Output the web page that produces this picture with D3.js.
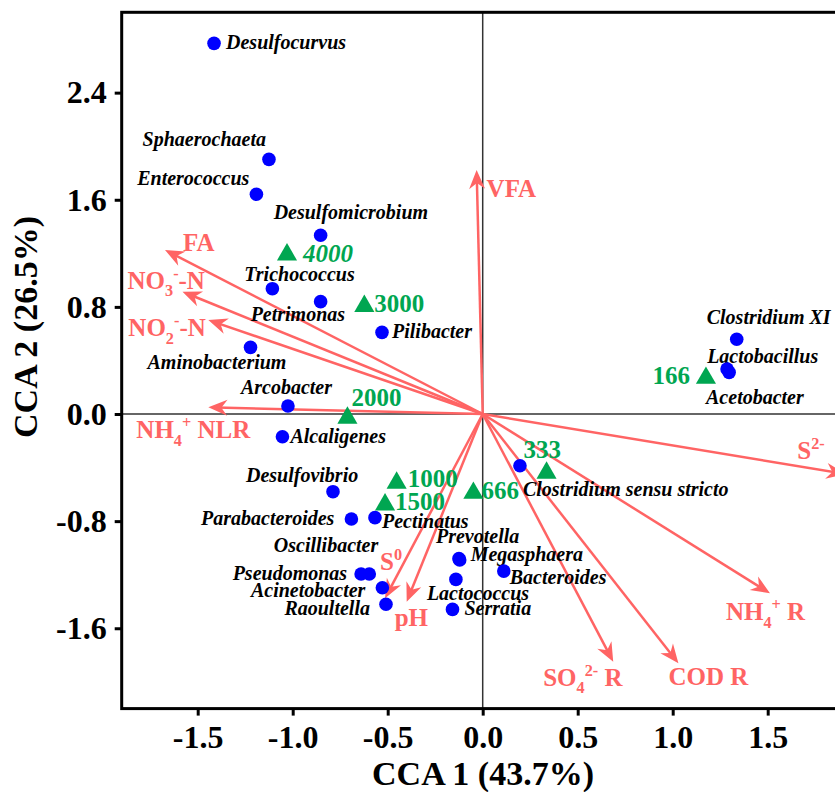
<!DOCTYPE html>
<html>
<head>
<meta charset="utf-8">
<script src="https://cdn.jsdelivr.net/npm/d3@7"></script>
<style>
  body { margin: 0; background: #fff; }
  svg text { font-family: "Liberation Serif", "Times New Roman", serif; font-weight: bold; }
</style>
</head>
<body>
<svg id="plot" width="835" height="792"></svg>
<script>
// species scores
const species = ['Desulfocurvus', 'Sphaerochaeta', 'Enterococcus', 'Desulfomicrobium', 'Trichococcus',
  'Petrimonas', 'Pilibacter', 'Aminobacterium', 'Arcobacter', 'Alcaligenes', 'Desulfovibrio',
  'Parabacteroides', 'Pectinatus', 'Oscillibacter', 'Pseudomonas', 'Acinetobacter', 'Raoultella',
  'Clostridium sensu stricto', 'Prevotella', 'Megasphaera', 'Bacteroides', 'Lactococcus', 'Serratia',
  'Clostridium XI', 'Lactobacillus', 'Acetobacter'];
const speciesCCA1 = [-1.414, -1.125, -1.191, -0.853, -1.107, -0.853, -0.530, -1.222, -1.025, -1.054, -0.788,
  -0.691, -0.567, -0.597, -0.640, -0.528, -0.509, 0.196, -0.125, -0.121, 0.111, -0.141, -0.159,
  1.337, 1.297, 1.286];
const speciesCCA2 = [2.768, 1.902, 1.641, 1.335, 0.936, 0.839, 0.610, 0.498, 0.060, -0.170, -0.580,
  -0.784, -0.774, -1.195, -1.195, -1.297, -1.421, -0.386, -1.080, -1.090, -1.173, -1.235, -1.459,
  0.558, 0.311, 0.336];

// sample scores
const samples = ['4000', '3000', '2000', '1000', '1500', '666', '333', '166'];
const sampleCCA1 = [-1.030, -0.623, -0.712, -0.453, -0.514, -0.049, 0.336, 1.175];
const sampleCCA2 = [1.190, 0.805, -0.029, -0.515, -0.677, -0.590, -0.440, 0.269];

// environmental vectors
const envVars = ['VFA', 'FA', 'NO3-N', 'NO2-N', 'NH4 NLR', 'S0', 'pH', 'S2-', 'NH4 R', 'SO4 R', 'COD R'];
const envCCA1 = [-0.032, -1.672, -1.580, -1.444, -1.444, -0.514, -0.400, 1.908, 1.512, 0.687, 1.030];
const envCCA2 = [1.822, 1.225, 0.913, 0.702, 0.050, -1.376, -1.402, -0.448, -1.339, -1.850, -1.862];
const envText = [
  [['VFA']],
  [['FA']],
  [['NO'], ['3', 'sub'], ['-', 'sup'], ['-N']],
  [['NO'], ['2', 'sub'], ['-', 'sup'], ['-N']],
  [['NH'], ['4', 'sub'], ['+', 'sup'], [' NLR']],
  [['S'], ['0', 'sup']],
  [['pH']],
  [['S'], ['2-', 'sup']],
  [['NH'], ['4', 'sub'], ['+', 'sup'], [' R']],
  [['SO'], ['4', 'sub'], ['2-', 'sup'], [' R']],
  [['COD R']]
];

const xTicks = [-1.5, -1.0, -0.5, 0.0, 0.5, 1.0, 1.5];
const yTicks = [-1.6, -0.8, 0.0, 0.8, 1.6, 2.4];

// label placement [dx, dy, anchor]
const speciesLabel = {
  'Desulfocurvus': [12, 6, 'start'], 'Sphaerochaeta': [-3, -13, 'end'], 'Enterococcus': [-7, -9, 'end'],
  'Desulfomicrobium': [-47, -16, 'start'], 'Trichococcus': [-28, -8, 'start'], 'Petrimonas': [-70, 19, 'start'],
  'Pilibacter': [10, 6, 'start'], 'Aminobacterium': [-103, 22, 'start'], 'Arcobacter': [-47, -12, 'start'],
  'Alcaligenes': [8, 6, 'start'], 'Desulfovibrio': [-87, -10, 'start'], 'Parabacteroides': [-17, 6, 'end'],
  'Pectinatus': [7, 10, 'start'], 'Oscillibacter': [9, -22, 'end'], 'Pseudomonas': [-14, 6, 'end'],
  'Acinetobacter': [-17, 9, 'end'], 'Raoultella': [-16, 11, 'end'], 'Clostridium sensu stricto': [3, 30, 'start'],
  'Prevotella': [-23, -16, 'start'], 'Megasphaera': [11, 1, 'start'], 'Bacteroides': [6, 13, 'start'],
  'Lactococcus': [-29, 21, 'start'], 'Serratia': [12, 6, 'start'], 'Clostridium XI': [-30, -15, 'start'],
  'Lactobacillus': [-22, -9, 'start'], 'Acetobacter': [-21, 35, 'start']
};
const sampleLabel = {
  '4000': [16, 10, 'start'], '3000': [10, 9, 'start'], '2000': [4, -9, 'start'], '1000': [11, 7, 'start'],
  '1500': [10, 8, 'start'], '666': [8, 9, 'start'], '333': [-23, -12, 'start'], '166': [-16, 9, 'end']
};
const envLabel = [[10, 27], [18, 1], [-55, -3], [-80, 16], [-72, 31], [-5, -28], [-12, 24], [-48, -15], [-44, 27], [-70, 24], [-10, 22]];

const RED = '#ff6464';
const GREEN = '#00a651';
const BLUE = '#0000ff';

const svg = d3.select('#plot');

const x = d3.scaleLinear().domain([-1.9, 1.9]).range([121.7, 843.7]);
const y = d3.scaleLinear().domain([-2.2, 3.0]).range([708.6, 12.3]);
const fmt = d => d3.format('.1f')(d).replace('\u2212', '-');

// zero lines
svg.append('line').attr('x1', x(0)).attr('x2', x(0)).attr('y1', y(3.0)).attr('y2', y(-2.2))
  .attr('stroke', '#333').attr('stroke-width', 1.5);
svg.append('line').attr('x1', x(-1.9)).attr('x2', x(1.9)).attr('y1', y(0)).attr('y2', y(0))
  .attr('stroke', '#333').attr('stroke-width', 1.5);

// axes
const gx = svg.append('g').attr('transform', `translate(0,${y(-2.2)})`)
  .call(d3.axisBottom(x).tickValues(xTicks).tickFormat(fmt).tickSize(7).tickPadding(10));
const gy = svg.append('g').attr('transform', `translate(${x(-1.9)},0)`)
  .call(d3.axisLeft(y).tickValues(yTicks).tickFormat(fmt).tickSize(7).tickPadding(8));
[gx, gy].forEach(g => {
  g.select('.domain').remove();
  g.selectAll('.tick line').attr('stroke', '#000').attr('stroke-width', 3);
  g.selectAll('.tick text').attr('fill', '#000').style('font-size', '32px')
    .style('font-family', '"Liberation Serif", "Times New Roman", serif').style('font-weight', 'bold');
});

// frame
svg.append('rect').attr('x', x(-1.9)).attr('y', y(3.0))
  .attr('width', x(1.9) - x(-1.9)).attr('height', y(-2.2) - y(3.0))
  .attr('fill', 'none').attr('stroke', '#000').attr('stroke-width', 3);

// axis titles
svg.append('text').attr('x', 483).attr('y', 785).attr('text-anchor', 'middle')
  .style('font-size', '34px').text('CCA 1 (43.7%)');
svg.append('text').attr('transform', 'translate(37,327) rotate(-90)').attr('text-anchor', 'middle')
  .style('font-size', '34px').text('CCA 2 (26.5%)');

// arrows
svg.append('defs').append('marker')
  .attr('id', 'head').attr('viewBox', '-20 -10 22 20')
  .attr('refX', 0).attr('refY', 0)
  .attr('markerWidth', 22).attr('markerHeight', 20)
  .attr('markerUnits', 'userSpaceOnUse').attr('orient', 'auto')
  .append('path').attr('d', 'M0,0 L-19,-8 L-13,0 L-19,8 Z').attr('fill', RED);

function richText(sel, parts, fs) {
  let shift = 0;
  parts.forEach(([t, kind]) => {
    const target = kind === 'sub' ? 0.3 * fs : kind === 'sup' ? -0.4 * fs : 0;
    sel.append('tspan').attr('dy', target - shift)
      .style('font-size', kind ? (0.65 * fs) + 'px' : fs + 'px').text(t);
    shift = target;
  });
}

const arrows = svg.append('g');
envVars.forEach((name, i) => {
  const x0 = x(0), y0 = y(0);
  const x1 = x(envCCA1[i]), y1 = y(envCCA2[i]);
  const len = Math.hypot(x1 - x0, y1 - y0);
  const k = (len - 8) / len;
  arrows.append('line')
    .attr('x1', x0).attr('y1', y0)
    .attr('x2', x0 + (x1 - x0) * k).attr('y2', y0 + (y1 - y0) * k)
    .attr('stroke', RED).attr('stroke-width', 2.5);
  arrows.append('path')
    .attr('d', `M${x0},${y0}L${x1},${y1}`)
    .attr('stroke', 'none').attr('fill', 'none')
    .attr('marker-end', 'url(#head)');
  const t = arrows.append('text')
    .attr('x', x1 + envLabel[i][0]).attr('y', y1 + envLabel[i][1])
    .attr('fill', RED).style('font-size', '25px');
  richText(t, envText[i], 25);
});

// species points
const sp = svg.append('g');
species.forEach((name, i) => {
  const px = x(speciesCCA1[i]), py = y(speciesCCA2[i]);
  sp.append('circle').attr('cx', px).attr('cy', py).attr('r', 6.8).attr('fill', BLUE);
  const [dx, dy, anchor] = speciesLabel[name];
  sp.append('text').attr('x', px + dx).attr('y', py + dy).attr('text-anchor', anchor)
    .attr('fill', '#000').style('font-size', '20px').style('font-style', 'italic').text(name);
});

// sample points
const sm = svg.append('g');
samples.forEach((name, i) => {
  const px = x(sampleCCA1[i]), py = y(sampleCCA2[i]);
  sm.append('path').attr('d', d3.symbol(d3.symbolTriangle, 175)())
    .attr('transform', `translate(${px},${py})`).attr('fill', GREEN);
  const [dx, dy, anchor] = sampleLabel[name];
  sm.append('text').attr('x', px + dx).attr('y', py + dy - 3).attr('text-anchor', anchor)
    .attr('fill', GREEN).style('font-size', '25px')
    .style('font-style', name === '4000' ? 'italic' : 'normal').text(name);
});
</script>
</body>
</html>
